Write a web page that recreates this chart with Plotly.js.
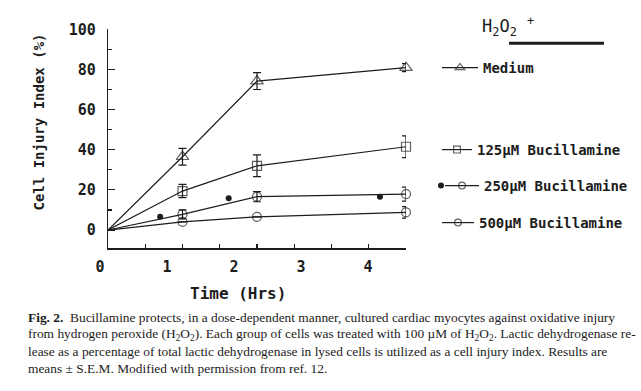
<!DOCTYPE html>
<html>
<head>
<meta charset="utf-8">
<script src="https://cdn.plot.ly/plotly-3.0.1.min.js"></script>
<style>html,body{margin:0;padding:0;background:#fff;}#chart{width:641px;height:391px;}</style>
</head>
<body>
<div id="chart"></div>
<script>
// ---- data (time in hours, injury index in %) ----
var timeHrs = [0, 1, 2, 4];
var mediumVals = [0, 36.5, 74.2, 80.9];
var mediumErr = [null, 4.2, 4.2, 2.0];
var bu125Vals = [0, 19.4, 32.0, 41.5];
var bu125Err = [null, 3.3, 5.4, 5.4];
var bu250Vals = [0, 7.8, 16.6, 17.9];
var bu250Err = [null, 2.2, 2.5, 3.5];
var bu500Vals = [0, 4.1, 6.6, 8.8];
var bu500Err = [null, null, null, 2.9];
var dotTime = [0.70, 1.62, 3.65];
var dotVals = [6.6, 15.8, 16.6];
var seriesNames = ['Medium', '125\u00b5M Bucillamine', '250\u00b5M Bucillamine', '500\u00b5M Bucillamine'];
var xTickVals = [0, 1, 2, 3, 4];
var xTickText = ['0', '1', '2', '3', '4'];
var yTickVals = [0, 20, 40, 60, 80, 100];

var W = 641, H = 391;
function px(x){ return x / W; }
function py(y){ return 1 - y / H; }

var ink = '#1c1c1c';
var mono = 'DejaVu Sans Mono';
var legFont = {family: mono, size: 14, color: ink, weight: 'bold'};

function series(xs, ys, errs, name, symbol, size, leg) {
  // no symbol is drawn at the common origin (t = 0)
  var sizes = xs.map(function (t) { return t === 0 ? 0 : size; });
  return {
    x: xs, y: ys, name: name, type: 'scatter', mode: 'lines+markers',
    legend: leg,
    line: {color: ink, width: 1.2},
    marker: {symbol: symbol, size: sizes, color: ink, line: {color: ink, width: 1.2}},
    error_y: {type: 'data', array: errs, visible: true, color: ink, thickness: 1.2, width: 4},
    cliponaxis: false
  };
}

var traces = [
  series(timeHrs, mediumVals, mediumErr, seriesNames[0], 'triangle-up-open', 11, 'legend'),
  series(timeHrs, bu125Vals, bu125Err, seriesNames[1], 'square-open', 9, 'legend2'),
  series(timeHrs, bu250Vals, bu250Err, seriesNames[2], 'circle-open', 9, 'legend3'),
  series(timeHrs, bu500Vals, bu500Err, seriesNames[3], 'circle-open', 9, 'legend4'),
  {x: dotTime, y: dotVals, name: '', type: 'scatter', mode: 'markers', legend: 'legend5',
   marker: {symbol: 'circle', size: 6, color: ink}, showlegend: true, cliponaxis: false},
  {x: [], y: [], xaxis: 'x2', yaxis: 'y', type: 'scatter', mode: 'markers', showlegend: false, hoverinfo: 'skip'}
];

function legendAt(x, y, iw) {
  return {x: px(x), y: py(y), xanchor: 'left', yanchor: 'middle', bgcolor: 'rgba(0,0,0,0)',
          borderwidth: 0, font: legFont, itemwidth: iw, tracegroupgap: 0};
}

function note(text, x, y, font, extra) {
  var a = {text: text, xref: 'paper', yref: 'paper', x: px(x), y: py(y), xanchor: 'center', yanchor: 'middle',
           showarrow: false, font: font};
  for (var k in (extra || {})) a[k] = extra[k];
  return a;
}

var serif = {family: 'Liberation Serif', size: 13.4, color: ink};

var layout = {
  width: W, height: H,
  margin: {l: 0, r: 0, t: 0, b: 0},
  paper_bgcolor: '#fff', plot_bgcolor: 'rgba(0,0,0,0)',
  showlegend: true,
  xaxis: {
    domain: [px(108), px(406)], range: [0, 4], anchor: 'y',
    showline: true, linecolor: ink, linewidth: 1.2, mirror: false,
    showgrid: false, zeroline: false,
    tickmode: 'linear', tick0: 0, dtick: 0.5, ticks: 'inside', ticklen: 4, tickwidth: 1.2, tickcolor: ink,
    showticklabels: false, fixedrange: true
  },
  xaxis2: {
    domain: [px(100), px(406)], range: [0, 4.567], anchor: 'y',
    showline: false, showgrid: false, zeroline: false, ticks: '',
    tickmode: 'array', tickvals: xTickVals, ticktext: xTickText,
    tickfont: {family: mono, size: 15, color: ink, weight: 'bold'},
    ticklabelstandoff: 8
  },
  yaxis: {
    domain: [py(248.3), py(29.3)], range: [-9.1, 100], anchor: 'x',
    showline: true, linecolor: ink, linewidth: 1.2,
    showgrid: false, zeroline: false,
    tickmode: 'array', tickvals: yTickVals, ticks: 'inside', ticklen: 7, tickwidth: 1.2, tickcolor: ink,
    minor: {dtick: 10, tick0: 0, ticks: 'inside', ticklen: 4, tickwidth: 1.2, tickcolor: ink},
    tickfont: {family: mono, size: 15, color: ink, weight: 'bold'},
    ticklabelstandoff: 8, fixedrange: true
  },
  legend: legendAt(437, 68, 36),
  legend2: legendAt(437, 150, 30),
  legend3: legendAt(440, 186, 34),
  legend4: legendAt(437, 223, 32),
  legend5: legendAt(421, 186, 30),
  shapes: [
    {type: 'line', xref: 'paper', yref: 'paper', x0: px(509), x1: px(604), y0: py(43.3), y1: py(43.3),
     line: {color: ink, width: 3}}
  ],
  annotations: [
    note('Cell Injury Index (%)', 38, 122.5, {family: mono, size: 14, color: ink, weight: 'bold'}, {textangle: -90}),
    note('Time (Hrs)', 237.5, 293, {family: mono, size: 16, color: ink, weight: 'bold'}),
    note('H<sub>2</sub>O<sub>2</sub> <sup>+</sup>', 480, 27, {family: mono, size: 17, color: ink}, {xanchor: 'left'}),
    note('<b>Fig. 2.</b>  Bucillamine protects, in a dose-dependent manner, cultured cardiac myocytes against oxidative injury',
         26, 317, serif, {xanchor: 'left'}),
    note('from hydrogen peroxide (H<sub>2</sub>O<sub>2</sub>). Each group of cells was treated with 100 \u00b5M of H<sub>2</sub>O<sub>2</sub>. Lactic dehydrogenase re-',
         26, 334, serif, {xanchor: 'left'}),
    note('lease as a percentage of total lactic dehydrogenase in lysed cells is utilized as a cell injury index. Results are',
         26, 351, serif, {xanchor: 'left'}),
    note('means \u00b1 S.E.M. Modified with permission from ref. 12.', 26, 368, serif, {xanchor: 'left'})
  ]
};

Plotly.newPlot('chart', traces, layout, {displayModeBar: false, staticPlot: true});
</script>
</body>
</html>
